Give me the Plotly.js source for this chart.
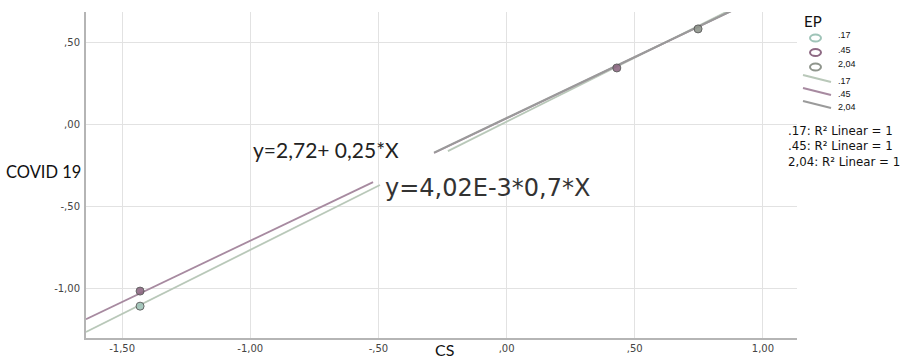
<!DOCTYPE html>
<html>
<head>
<meta charset="utf-8">
<script src="https://cdn.plot.ly/plotly-3.0.1.min.js"></script>
<style>html,body{margin:0;padding:0;background:#fff;}#chart{width:921px;height:360px;}</style>
</head>
<body>
<div id="chart"></div>
<script>
// ---- data ----
const groups = [".17", ".45", "2,04"];
const markerColors = ["#9fc4b8", "#8e6a84", "#8f958c"];
const lineColors = ["#b9c8b9", "#a78aa0", "#9a9a9a"];
// observed points per group (CS, COVID 19)
const pts17X = [-1.43];
const pts17Y = [-1.106];
const pts45X = [-1.43, 0.43];
const pts45Y = [-1.014, 0.346];
const pts204X = [0.747];
const pts204Y = [0.584];
// fit lines: intercept, slope, and visible x segments
const fitIntercept = [0.018, 0.039, 0.041];
const fitSlope = [0.781, 0.746, 0.744];
const fitSegments = [
  [[-1.641, -0.494], [-0.229, 0.88]],
  [[-1.641, -0.521], [-0.283, 0.899]],
  [[-0.283, 0.899]]
];
const xTickVals = [-1.5, -1.0, -0.5, 0, 0.5, 1.0];
const xTickText = ["-1,50", "-1,00", "-,50", ",00", ",50", "1,00"];
const yTickVals = [-1.0, -0.5, 0, 0.5];
const yTickText = ["-1,00", "-,50", ",00", ",50"];
const eqText1 = "y=2,72+ 0,25*X";
const eqText2 = "y=4,02E-3*0,7*X";
const r2Text = [".17: R² Linear = 1", ".45: R² Linear = 1", "2,04: R² Linear = 1"];

// ---- layout geometry ----
const W = 921, H = 360;
const M = {l: 86, r: 124, t: 12, b: 22};
const PW = W - M.l - M.r, PH = H - M.t - M.b;
const px = x => (x - M.l) / PW;
const py = y => (H - M.b - y) / PH;

const traces = [];
fitSegments.forEach((segs, i) => {
  const xs = [], ys = [];
  segs.forEach((s, k) => {
    if (k > 0) { xs.push(null); ys.push(null); }
    s.forEach(x => { xs.push(x); ys.push(fitIntercept[i] + fitSlope[i] * x); });
  });
  traces.push({x: xs, y: ys, mode: "lines", type: "scatter", connectgaps: false,
    line: {color: lineColors[i], width: i === 2 ? 2 : 1.8}, hoverinfo: "skip", showlegend: false});
});
const ptsX = [pts17X, pts45X, pts204X];
const ptsY = [pts17Y, pts45Y, pts204Y];
ptsX.forEach((xs, i) => {
  traces.push({x: xs, y: ptsY[i], mode: "markers", type: "scatter",
    marker: {symbol: "circle", size: 8, color: markerColors[i], opacity: 0.9,
      line: {color: "#555", width: 1}}, showlegend: false});
});

const fontTxt = "Lato, 'Open Sans', sans-serif";
const fontSmall = "'DejaVu Sans', sans-serif";
const annotations = [
  {xref: "x", yref: "y", x: -0.998, y: -0.154, xanchor: "left", yanchor: "middle",
   text: eqText1, showarrow: false, font: {family: fontTxt, size: 21, color: "#222"}},
  {xref: "x", yref: "y", x: -0.483, y: -0.385, xanchor: "left", yanchor: "middle",
   text: eqText2, showarrow: false, font: {family: fontSmall, size: 24, color: "#333"}},
  {xref: "paper", yref: "paper", x: px(4), y: py(172), xanchor: "left", yanchor: "middle",
   text: "COVID 19", showarrow: false, font: {family: fontTxt, size: 16.5, color: "#111"}},
  {xref: "paper", yref: "paper", x: px(444), y: py(349), xanchor: "center", yanchor: "middle",
   text: "CS", showarrow: false, font: {family: fontTxt, size: 16, color: "#111"}},
  {xref: "paper", yref: "paper", x: px(802), y: py(21), xanchor: "left", yanchor: "middle",
   text: "EP", showarrow: false, font: {family: fontTxt, size: 15, color: "#111"}},
  {xref: "paper", yref: "paper", x: px(786), y: py(146), xanchor: "left", yanchor: "middle",
   align: "left", text: r2Text.join("<br>"), showarrow: false,
   font: {family: fontSmall, size: 11.8, color: "#111"}}
];
const shapes = [];
groups.forEach((g, i) => {
  const cy = 38 + 14.5 * i;
  shapes.push({type: "circle", xref: "paper", yref: "paper",
    x0: px(810), x1: px(821), y0: py(cy - 3.5), y1: py(cy + 3.5),
    line: {color: markerColors[i], width: 2}, fillcolor: "rgba(0,0,0,0)"});
  annotations.push({xref: "paper", yref: "paper", x: px(836), y: py(35 + 14.5 * i),
    xanchor: "left", yanchor: "middle", text: g, showarrow: false,
    font: {family: "'Liberation Sans', Arial, sans-serif", size: 9, color: "#111"}});
  const ly = 75 + 13 * i;
  shapes.push({type: "line", xref: "paper", yref: "paper",
    x0: px(803), x1: px(831), y0: py(ly), y1: py(ly + 7),
    line: {color: lineColors[i], width: 2}});
  annotations.push({xref: "paper", yref: "paper", x: px(836), y: py(81 + 13 * i),
    xanchor: "left", yanchor: "middle", text: g, showarrow: false,
    font: {family: "'Liberation Sans', Arial, sans-serif", size: 9, color: "#111"}});
});

const tickFont = {family: fontSmall, size: 10, color: "#444"};
const layout = {
  width: W, height: H,
  margin: M,
  paper_bgcolor: "#fff", plot_bgcolor: "#fff",
  showlegend: false,
  xaxis: {range: [-1.641, 1.133], tickvals: xTickVals, ticktext: xTickText,
    showgrid: true, gridcolor: "#e2e2e2", gridwidth: 1, zeroline: false,
    showline: true, linecolor: "#b5b5b5", linewidth: 2, ticks: "",
    tickfont: tickFont},
  yaxis: {range: [-1.30, 0.687], tickvals: yTickVals, ticktext: yTickText,
    showgrid: true, gridcolor: "#e2e2e2", gridwidth: 1, zeroline: false,
    showline: true, linecolor: "#b5b5b5", linewidth: 2, ticks: "", ticklabelstandoff: 2,
    tickfont: tickFont},
  annotations: annotations,
  shapes: shapes
};
Plotly.newPlot("chart", traces, layout, {staticPlot: true, displayModeBar: false});
</script>
</body>
</html>
